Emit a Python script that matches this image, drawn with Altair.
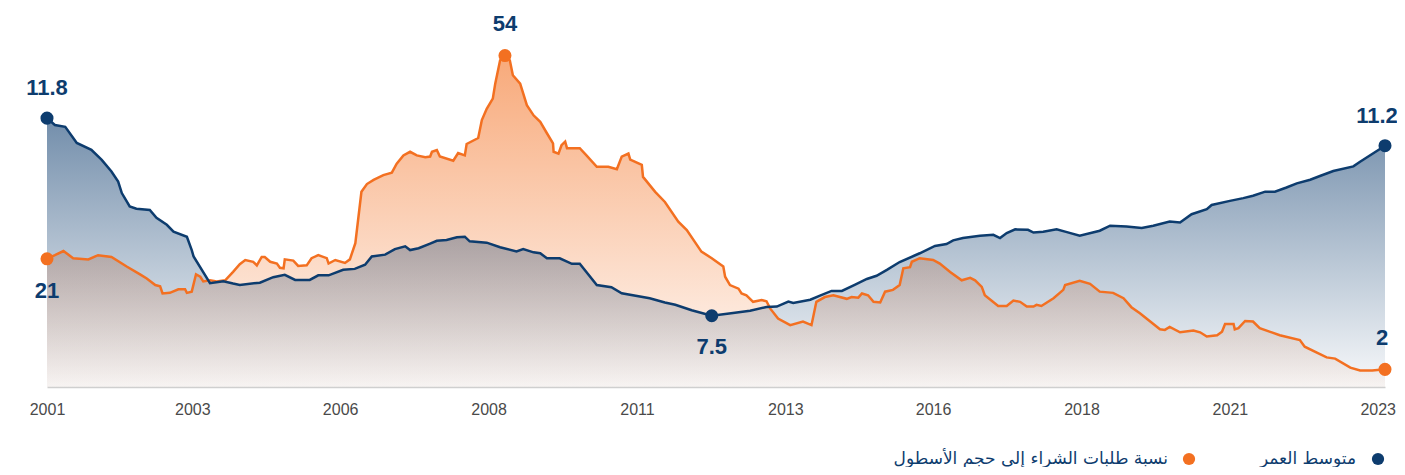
import altair as alt
import pandas as pd

# ---------------- data ----------------
blue_year = [2001.00, 2001.13, 2001.30, 2001.49, 2001.73, 2001.90, 2002.06, 2002.17, 2002.23, 2002.36,
             2002.47, 2002.69, 2002.80, 2002.97, 2003.08, 2003.30, 2003.38, 2003.41, 2003.68, 2003.90,
             2004.06, 2004.17, 2004.50, 2004.72, 2004.91, 2005.08, 2005.32, 2005.46, 2005.63, 2005.87,
             2006.06, 2006.23, 2006.34, 2006.56, 2006.72, 2006.89, 2006.97, 2007.11, 2007.30, 2007.41,
             2007.57, 2007.74, 2007.87, 2007.95, 2008.23, 2008.45, 2008.72, 2008.83, 2009.00, 2009.11,
             2009.22, 2009.43, 2009.63, 2009.76, 2010.04, 2010.28, 2010.45, 2010.91, 2011.16, 2011.33,
             2011.60, 2011.93, 2012.28, 2012.56, 2012.83, 2013.00, 2013.19, 2013.27, 2013.55, 2013.71,
             2013.90, 2014.07, 2014.28, 2014.48, 2014.64, 2014.81, 2015.02, 2015.35, 2015.60, 2015.79,
             2015.90, 2016.06, 2016.34, 2016.56, 2016.67, 2016.78, 2016.92, 2017.13, 2017.22, 2017.38,
             2017.60, 2017.77, 2017.98, 2018.31, 2018.48, 2018.75, 2019.00, 2019.19, 2019.46, 2019.63,
             2019.82, 2020.07, 2020.15, 2020.45, 2020.67, 2020.83, 2021.03, 2021.19, 2021.38, 2021.55,
             2021.77, 2021.93, 2022.15, 2022.48, 2022.59, 2023.00]
blue_val = [11.80, 11.65, 11.61, 11.26, 11.11, 10.89, 10.64, 10.42, 10.17, 9.88,
            9.83, 9.80, 9.63, 9.48, 9.33, 9.22, 8.93, 8.79, 8.21, 8.25,
            8.20, 8.17, 8.22, 8.34, 8.39, 8.28, 8.28, 8.38, 8.38, 8.50,
            8.52, 8.61, 8.79, 8.83, 8.95, 9.01, 8.93, 8.97, 9.07, 9.13,
            9.15, 9.21, 9.22, 9.12, 9.09, 8.99, 8.90, 8.95, 8.88, 8.86,
            8.75, 8.75, 8.63, 8.63, 8.17, 8.12, 7.99, 7.88, 7.79, 7.74,
            7.62, 7.50, 7.56, 7.61, 7.69, 7.70, 7.81, 7.78, 7.85, 7.94,
            8.04, 8.04, 8.17, 8.30, 8.37, 8.50, 8.67, 8.86, 9.02, 9.06,
            9.14, 9.19, 9.24, 9.26, 9.19, 9.30, 9.38, 9.37, 9.31, 9.33,
            9.38, 9.32, 9.24, 9.35, 9.46, 9.44, 9.41, 9.46, 9.55, 9.53,
            9.71, 9.82, 9.91, 10.00, 10.06, 10.11, 10.20, 10.20, 10.29, 10.38,
            10.46, 10.54, 10.65, 10.75, 10.85, 11.20]

orange_year = [2001.00, 2001.13, 2001.27, 2001.43, 2001.68, 2001.84, 2002.06, 2002.31, 2002.53, 2002.64,
               2002.78, 2002.86, 2002.90, 2003.02, 2003.16, 2003.27, 2003.30, 2003.38, 2003.45, 2003.52,
               2003.57, 2003.68, 2003.79, 2003.93, 2004.06, 2004.17, 2004.26, 2004.39, 2004.45, 2004.53,
               2004.58, 2004.67, 2004.78, 2004.83, 2004.89, 2004.91, 2005.05, 2005.13, 2005.27, 2005.35,
               2005.46, 2005.60, 2005.63, 2005.74, 2005.90, 2005.98, 2006.07, 2006.17, 2006.26, 2006.37,
               2006.53, 2006.67, 2006.75, 2006.86, 2006.97, 2007.08, 2007.22, 2007.30, 2007.33, 2007.41,
               2007.46, 2007.68, 2007.76, 2007.87, 2007.90, 2008.09, 2008.15, 2008.23, 2008.33, 2008.37,
               2008.45, 2008.53, 2008.61, 2008.66, 2008.78, 2008.89, 2009.00, 2009.11, 2009.22, 2009.32,
               2009.33, 2009.41, 2009.46, 2009.52, 2009.55, 2009.76, 2009.87, 2010.04, 2010.23, 2010.37,
               2010.45, 2010.56, 2010.59, 2010.78, 2010.80, 2011.00, 2011.16, 2011.38, 2011.52, 2011.76,
               2011.93, 2012.12, 2012.15, 2012.23, 2012.37, 2012.42, 2012.50, 2012.61, 2012.75, 2012.83,
               2012.89, 2013.02, 2013.22, 2013.43, 2013.57, 2013.65, 2013.79, 2013.93, 2014.15, 2014.23,
               2014.34, 2014.40, 2014.50, 2014.59, 2014.70, 2014.78, 2014.91, 2015.02, 2015.08, 2015.19,
               2015.22, 2015.35, 2015.57, 2015.68, 2015.85, 2016.04, 2016.18, 2016.26, 2016.37, 2016.42,
               2016.64, 2016.78, 2016.89, 2017.00, 2017.11, 2017.22, 2017.27, 2017.35, 2017.55, 2017.71,
               2017.74, 2017.98, 2018.15, 2018.31, 2018.53, 2018.70, 2018.83, 2018.97, 2019.14, 2019.30,
               2019.38, 2019.46, 2019.63, 2019.85, 2019.96, 2020.07, 2020.24, 2020.32, 2020.37, 2020.51,
               2020.53, 2020.59, 2020.70, 2020.83, 2020.94, 2021.27, 2021.60, 2021.68, 2021.88, 2022.04,
               2022.18, 2022.43, 2022.59, 2022.79, 2023.00]
orange_val = [20.0, 20.6, 21.3, 20.1, 19.9, 20.6, 20.3, 18.7, 17.4, 16.7,
              15.6, 15.4, 14.2, 14.3, 14.9, 14.9, 14.3, 14.5, 17.4, 17.0,
              16.2, 16.4, 16.2, 16.4, 17.8, 19.1, 19.8, 19.5, 18.9, 20.3,
              20.3, 19.5, 19.2, 18.5, 18.4, 19.9, 19.7, 18.8, 18.9, 20.1,
              20.6, 20.1, 19.2, 19.8, 19.3, 19.9, 22.6, 31.2, 32.5, 33.2,
              34.0, 34.4, 35.9, 37.3, 37.9, 37.3, 37.0, 37.1, 37.9, 38.2,
              37.1, 36.4, 37.7, 37.3, 39.2, 40.2, 43.2, 45.1, 46.8, 49.3,
              53.2, 54.0, 53.2, 50.7, 49.3, 45.7, 44.0, 42.9, 41.0, 39.3,
              37.9, 37.6, 39.0, 39.6, 38.5, 38.5, 37.3, 35.4, 35.4, 35.0,
              37.1, 37.6, 36.6, 35.7, 33.7, 31.2, 29.5, 26.2, 24.8, 21.2,
              20.1, 18.7, 17.0, 15.6, 15.0, 14.2, 13.9, 12.8, 13.1, 12.9,
              11.7, 10.0, 8.9, 9.5, 8.9, 12.8, 13.6, 13.9, 13.3, 13.6,
              13.5, 14.2, 13.9, 12.8, 12.7, 14.5, 14.8, 15.6, 18.4, 18.6,
              19.5, 20.1, 19.8, 19.2, 17.8, 16.4, 16.8, 16.4, 15.3, 13.9,
              12.1, 12.1, 13.0, 12.8, 12.0, 12.0, 12.3, 12.1, 13.4, 14.8,
              15.6, 16.3, 15.8, 14.5, 14.3, 13.4, 11.9, 10.9, 9.5, 8.2,
              8.1, 8.6, 7.7, 8.0, 7.7, 7.0, 7.2, 7.8, 9.1, 9.1,
              8.2, 8.4, 9.6, 9.5, 8.4, 7.2, 6.4, 5.3, 4.3, 3.5,
              3.3, 1.8, 1.3, 1.3, 1.5]

# call-outs: (year, value, label)
blue_start = {"year": [2001.00], "value": [11.80], "label": ["11.8"]}
blue_end = {"year": [2023.00], "value": [11.20], "label": ["11.2"]}
blue_low = {"year": [2011.93], "value": [7.50], "label": ["7.5"]}
orange_peak = {"year": [2008.53], "value": [54.0], "label": ["54"]}
orange_end = {"year": [2023.00], "value": [1.5], "label": ["2"]}
orange_start = {"year": [2001.00], "value": [20.0], "label": ["21"]}

x_tick_values = [2001.0, 2003.39, 2005.82, 2008.26, 2010.70, 2013.14, 2015.57, 2018.01, 2020.45, 2022.88]
x_tick_labels = ["2001", "2003", "2006", "2008", "2011", "2013", "2016", "2018", "2021", "2023"]

legend_labels = ["متوسط العمر", "نسبة طلبات الشراء إلى حجم الأسطول"]

# ---------------- styling ----------------
W, H = 1338, 347
NAVY = "#0d3c6e"
ORANGE = "#f37021"
NUM_FONT = "Liberation Sans"
BLUE_DOMAIN = [5.95, 13.5]
ORANGE_DOMAIN = [-1.45, 56.6]

blue_df = pd.DataFrame({"year": blue_year, "value": blue_val})
orange_df = pd.DataFrame({"year": orange_year, "value": orange_val})

label_expr = "[" + ",".join("'%s'" % s for s in x_tick_labels) + "][indexof([" + \
    ",".join(str(v) for v in x_tick_values) + "], datum.value)]"

x_enc = alt.X(
    "year:Q",
    scale=alt.Scale(domain=[2001, 2023], nice=False, zero=False),
    axis=alt.Axis(values=x_tick_values, labelExpr=label_expr, title=None, grid=False,
                  ticks=False, domainColor="#cfcfcf", domainWidth=1.5,
                  labelColor="#4a4a4a", labelFontSize=16,
                  labelFont="Liberation Sans Narrow, Liberation Sans",
                  labelPadding=14, labelFlush=False, zindex=1),
)


def y_enc(domain):
    return alt.Y("value:Q", scale=alt.Scale(domain=domain, nice=False, zero=False), axis=None)


blue_grad = alt.Gradient(
    gradient="linear",
    stops=[alt.GradientStop(offset=0, color="rgba(13,60,110,0.58)"),
           alt.GradientStop(offset=1, color="rgba(13,60,110,0.03)")],
    x1=0, x2=0, y1=0, y2=1,
)
orange_grad = alt.Gradient(
    gradient="linear",
    stops=[alt.GradientStop(offset=0, color="rgba(243,112,33,0.60)"),
           alt.GradientStop(offset=1, color="rgba(243,112,33,0.04)")],
    x1=0, x2=0, y1=0, y2=1,
)

orange_area = alt.Chart(orange_df).mark_area(color=orange_grad).encode(
    x=x_enc, y=y_enc(ORANGE_DOMAIN), y2=alt.datum(ORANGE_DOMAIN[0]))
blue_area = alt.Chart(blue_df).mark_area(color=blue_grad).encode(
    x=x_enc, y=y_enc(BLUE_DOMAIN), y2=alt.datum(BLUE_DOMAIN[0]))
orange_line = alt.Chart(orange_df).mark_line(color=ORANGE, strokeWidth=2.5).encode(
    x=x_enc, y=y_enc(ORANGE_DOMAIN))
blue_line = alt.Chart(blue_df).mark_line(color=NAVY, strokeWidth=2.5).encode(
    x=x_enc, y=y_enc(BLUE_DOMAIN))


def merge(*ds):
    return pd.DataFrame({k: sum((d[k] for d in ds), []) for k in ("year", "value", "label")})


orange_pts = alt.Chart(merge(orange_start, orange_peak, orange_end)).mark_circle(
    color=ORANGE, opacity=1, size=170).encode(x=x_enc, y=y_enc(ORANGE_DOMAIN))
blue_pts = alt.Chart(merge(blue_start, blue_low, blue_end)).mark_circle(
    color=NAVY, opacity=1, size=170).encode(x=x_enc, y=y_enc(BLUE_DOMAIN))


def callouts(d, domain, dy, dx=0):
    return alt.Chart(pd.DataFrame(d)).mark_text(
        color=NAVY, font=NUM_FONT, fontSize=22, fontWeight="bold", dy=dy, dx=dx, baseline="middle"
    ).encode(x=x_enc, y=y_enc(domain), text="label:N")


texts = [
    callouts(blue_start, BLUE_DOMAIN, -30),
    callouts(blue_end, BLUE_DOMAIN, -30, -8),
    callouts(blue_low, BLUE_DOMAIN, 31),
    callouts(orange_peak, ORANGE_DOMAIN, -32),
    callouts(orange_end, ORANGE_DOMAIN, -31, -3),
    callouts(orange_start, ORANGE_DOMAIN, 32),
]

LEG_Y = 419
leg_blue_dot = alt.Chart(pd.DataFrame({"k": [0]})).mark_circle(color=NAVY, opacity=1, size=150).encode(
    x=alt.value(1331), y=alt.value(LEG_Y))
leg_orange_dot = alt.Chart(pd.DataFrame({"k": [0]})).mark_circle(color=ORANGE, opacity=1, size=150).encode(
    x=alt.value(1142), y=alt.value(LEG_Y))
leg_blue_txt = alt.Chart(pd.DataFrame({"label": [legend_labels[0]]})).mark_text(
    color=NAVY, fontSize=17, align="right", baseline="middle", font="DejaVu Sans"
).encode(x=alt.value(1309), y=alt.value(LEG_Y), text="label:N")
leg_orange_txt = alt.Chart(pd.DataFrame({"label": [legend_labels[1]]})).mark_text(
    color=NAVY, fontSize=17, align="right", baseline="middle", font="DejaVu Sans"
).encode(x=alt.value(1121), y=alt.value(LEG_Y), text="label:N")

chart = alt.layer(
    orange_area, blue_area, orange_line, blue_line, orange_pts, blue_pts,
    *texts,
    leg_orange_dot, leg_blue_dot, leg_orange_txt, leg_blue_txt,
).resolve_scale(y="independent").properties(
    width=W, height=H,
    autosize=alt.AutoSizeParams(type="none"),
    padding={"left": 39, "top": 32, "right": 12, "bottom": 80},
).configure_view(stroke=None)

chart.save("out.html", embed_options={"renderer": "svg", "actions": False})
